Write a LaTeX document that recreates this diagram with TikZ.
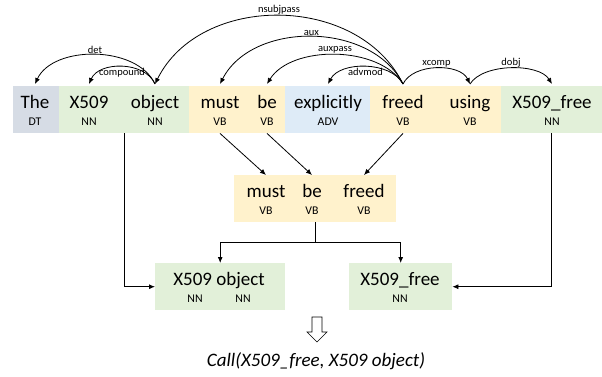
\documentclass[tikz,border=0pt]{standalone}
\usepackage{fontspec}
\setmainfont{Carlito}
\usetikzlibrary{arrows.meta}
\definecolor{dtfill}{HTML}{D6DCE5}
\definecolor{nnfill}{HTML}{E2F0D9}
\definecolor{vbfill}{HTML}{FFF2CC}
\definecolor{advfill}{HTML}{DEEBF7}

\begin{document}
\begin{tikzpicture}[x=1pt,y=-1pt,
  seg/.style={fill=#1, draw=none, inner sep=0, anchor=north west, minimum height=47},
  word/.style={font=\fontsize{19}{19}\selectfont, anchor=base, inner sep=0},
  tag/.style={font=\fontsize{11.8}{12}\selectfont, anchor=base, inner sep=0},
  dep/.style={-{Latex[length=6,width=5]}, line width=0.8},
  deplab/.style={font=\fontsize{10.5}{11}\selectfont, inner sep=1, pos=0.5},
  link/.style={-{Latex[length=6,width=5]}, line width=0.8},
]
\useasboundingbox (0,0) rectangle (602,376);

% coloured token groups of the sentence
\node[seg=dtfill,  minimum width=46]  (s-dt)  at (13,86)  {};
\node[seg=nnfill,  minimum width=130] (s-nn1) at (59,86)  {};
\node[seg=vbfill,  minimum width=96]  (s-vb1) at (189,86) {};
\node[seg=advfill, minimum width=85]  (s-adv) at (285,86) {};
\node[seg=vbfill,  minimum width=131] (s-vb2) at (370,86) {};
\node[seg=nnfill,  minimum width=101] (s-nn2) at (501,86) {};
\coordinate (arctop) at (0,84);

% words and POS tags
\node[word] (w-the)       at (35,108)  {The};
\node[word] (w-x509)      at (89,108)  {X509};
\node[word] (w-object)    at (155,108) {object};
\node[word] (w-must)      at (220,108) {must};
\node[word] (w-be)        at (267,108) {be};
\node[word] (w-explicitly) at (328,108) {explicitly};
\node[word] (w-freed)     at (403,108) {freed};
\node[word] (w-using)     at (470,108) {using};
\node[word] (w-x509free)  at (552,108) {X509\_free};
\node[tag] (t-the)       at (35,125)  {DT};
\node[tag] (t-x509)      at (89,125)  {NN};
\node[tag] (t-object)    at (155,125) {NN};
\node[tag] (t-must)      at (220,125) {VB};
\node[tag] (t-be)        at (267,125) {VB};
\node[tag] (t-explicitly) at (328,125) {ADV};
\node[tag] (t-freed)     at (403,125) {VB};
\node[tag] (t-using)     at (470,125) {VB};
\node[tag] (t-x509free)  at (552,125) {NN};

% dependency arcs
\draw[dep] (w-object |- arctop) .. controls +(-18,-39) and +(18,-39) .. (w-the |- arctop)
  node[deplab, anchor=south] {det};
\draw[dep] (w-object |- arctop) .. controls +(-10,-23) and +(10,-23) .. (w-x509 |- arctop)
  node[deplab, anchor=north] {compound};
\draw[dep] (w-freed |- arctop) .. controls +(-45,-91) and +(45,-91) .. (w-object |- arctop)
  node[deplab, anchor=south] {nsubjpass};
\draw[dep] (w-freed |- arctop) .. controls +(-32,-63) and +(32,-63) .. (w-must |- arctop)
  node[deplab, anchor=south] {aux};
\draw[dep] (w-freed |- arctop) .. controls +(-24,-39) and +(24,-39) .. (w-be |- arctop)
  node[deplab, anchor=south] {auxpass};
\draw[dep] (w-freed |- arctop) .. controls +(-12,-23) and +(12,-23) .. (w-explicitly |- arctop)
  node[deplab, anchor=north] {advmod};
\draw[dep] (w-freed |- arctop) .. controls +(10,-21) and +(-10,-21) .. (w-using |- arctop)
  node[deplab, anchor=south] {xcomp};
\draw[dep] (w-using |- arctop) .. controls +(13,-21) and +(-13,-21) .. (w-x509free |- arctop)
  node[deplab, anchor=south] {dobj};

% extracted verb phrase
\node[seg=vbfill, minimum width=162] (mid) at (234,175) {};
\node[word] (m-must)  at (266,197) {must};
\node[word] (m-be)    at (312,197) {be};
\node[word] (m-freed) at (364,197) {freed};
\node[tag] (mt-must)  at (266,214) {VB};
\node[tag] (mt-be)    at (312,214) {VB};
\node[tag] (mt-freed) at (364,214) {VB};

\draw[link] (w-must |- s-vb1.south) -- (m-must |- mid.north);
\draw[link] (w-be |- s-vb1.south) -- (m-be |- mid.north);
\draw[link] (w-freed |- s-vb2.south) -- (m-freed |- mid.north);

% arguments
\node[seg=nnfill, minimum width=130] (bx1) at (155,263) {};
\node[seg=nnfill, minimum width=103] (bx2) at (349,263) {};
\node[word] (b-x509obj)  at (219,285) {X509 object};
\node[tag]  (bt-x509)    at (195,302) {NN};
\node[tag]  (bt-object)  at (243,302) {NN};
\node[word] (b-x509free) at (400,285) {X509\_free};
\node[tag]  (bt-free)    at (400,302) {NN};

\draw[line width=0.8] (mid.south) -- ++(0,20) coordinate (split);
\draw[link] (split) -| (bx1.north);
\draw[link] (split) -| (bx2.north);
\draw[link] (s-nn1.south) |- (bx1.west);
\draw[link] (s-nn2.south) |- (bx2.east);

% resulting call
\coordinate (imp) at (317,317);
\draw[line width=0.6, line join=miter] (imp) ++(-5,0) -- ++(10,0) -- ++(0,15) -- ++(5,0)
  -- ++(-10,10) -- ++(-10,-10) -- ++(5,0) -- cycle;
\node[word, font=\fontsize{19}{19}\selectfont\itshape] (call) at (316,366)
  {Call(X509\_free, X509 object)};
\end{tikzpicture}
\end{document}
